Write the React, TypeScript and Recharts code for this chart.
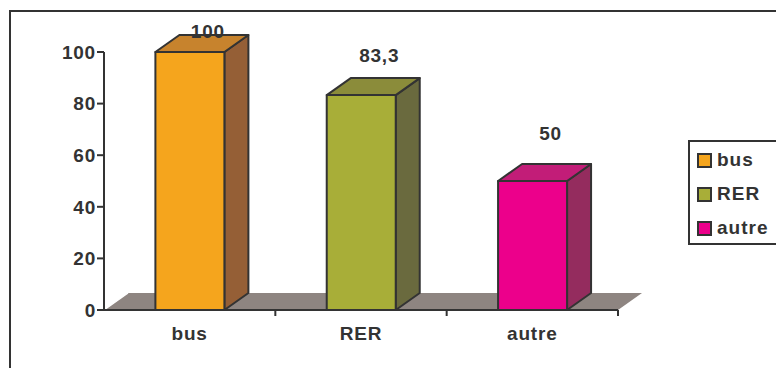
import React from 'react';
import {
  BarChart,
  Bar,
  XAxis,
  YAxis,
  Legend,
  LabelList,
  ReferenceArea,
  Cell,
} from 'recharts';

// Transport modes and their share (%)
const categories = ['bus', 'RER', 'autre'];
const values = [100, 83.3, 50];
const yTicks = [0, 20, 40, 60, 80, 100];

// Face colours of each 3D column: front, side, top
const frontColors = ['#F5A51D', '#A8AE38', '#EC008B'];
const sideColors = ['#955F36', '#6A6A3E', '#942C5E'];
const topColors = ['#C7832D', '#8B8C3A', '#C21D78'];

const data = categories.map((name, i) => ({ name, value: values[i] }));

const FONT = '"Liberation Sans", Arial, Helvetica, sans-serif';
const INK = '#333333';
const FONT_SIZE = 19;
const SPACING = 0.8;
const DEPTH_X = 24;
const DEPTH_Y = 17;

const Column3D = (props: any) => {
  const { x, y, width, height, index } = props;
  if (width == null || height == null) return null;
  const r = x + width;
  const b = y + height;
  return (
    <g stroke={INK} strokeWidth={2} strokeLinejoin="round">
      <polygon
        points={`${r},${y} ${r + DEPTH_X},${y - DEPTH_Y} ${r + DEPTH_X},${b - DEPTH_Y} ${r},${b}`}
        fill={sideColors[index]}
      />
      <polygon
        points={`${x},${y} ${x + DEPTH_X},${y - DEPTH_Y} ${r + DEPTH_X},${y - DEPTH_Y} ${r},${y}`}
        fill={topColors[index]}
      />
      <rect x={x} y={y} width={width} height={height} fill={frontColors[index]} />
    </g>
  );
};

// Floor of the 3D plot, drawn along the zero line
const Floor = (props: any) => {
  const { x, y, width, height } = props;
  const b = y + height;
  return (
    <g>
      <polygon
        points={`${x},${b} ${x + DEPTH_X},${b - DEPTH_Y} ${x + width + DEPTH_X},${b - DEPTH_Y} ${x + width},${b}`}
        fill="#8E8581"
      />
      <line x1={x} y1={b} x2={x + DEPTH_X} y2={b - DEPTH_Y} stroke="#ffffff" strokeWidth={1.5} />
    </g>
  );
};

const ValueLabel = (props: any) => {
  const { x, y, width, value } = props;
  const lift = 48 - 0.24 * (value - 50);
  const cy = Math.max(y - lift, 31);
  return (
    <text
      x={x + width / 2 + 18}
      y={cy + 7}
      textAnchor="middle"
      fontFamily={FONT}
      fontWeight="bold"
      fontSize={FONT_SIZE}
      letterSpacing={SPACING}
      fill={INK}
    >
      {String(value).replace('.', ',')}
    </text>
  );
};

const CategoryTick = (props: any) => {
  const { x, y, payload } = props;
  const axisY = y - 8;
  const half = payload && payload.offset ? payload.offset : 0;
  return (
    <g>
      <line x1={x + half} y1={axisY} x2={x + half} y2={axisY + 6} stroke={INK} strokeWidth={2} />
      <text
        x={x}
        y={axisY + 30}
        textAnchor="middle"
        fontFamily={FONT}
        fontWeight="bold"
        fontSize={FONT_SIZE}
        letterSpacing={SPACING}
        fill={INK}
      >
        {payload.value}
      </text>
    </g>
  );
};

const LegendBox = () => (
  <div
    style={{
      position: 'relative',
      boxSizing: 'border-box',
      width: 96,
      height: 105,
      border: `2px solid ${INK}`,
      background: '#fff',
      fontFamily: FONT,
      fontWeight: 'bold',
      fontSize: FONT_SIZE,
      letterSpacing: 1,
      color: INK,
    }}
  >
    {categories.map((name, i) => (
      <div
        key={name}
        style={{ position: 'absolute', left: 7, top: 11 + i * 34, height: 14, display: 'flex' }}
      >
        <div
          style={{
            boxSizing: 'border-box',
            width: 15,
            height: 15,
            border: `2px solid ${INK}`,
            background: frontColors[i],
          }}
        />
        <span style={{ marginLeft: 5, lineHeight: '14px', whiteSpace: 'nowrap' }}>{name}</span>
      </div>
    ))}
  </div>
);

export default function App() {
  return (
    <div
      style={{
        position: 'absolute',
        left: 0,
        top: 0,
        width: 776,
        height: 368,
        overflow: 'hidden',
        background: '#fff',
      }}
    >
      <div
        style={{
          position: 'absolute',
          left: 9,
          top: 10,
          width: 900,
          height: 500,
          border: `2px solid ${INK}`,
        }}
      />
      <div style={{ position: 'absolute', left: 0, top: 0 }}>
        <BarChart
          width={776}
          height={368}
          data={data}
          margin={{ top: 52, right: 158, bottom: 18, left: 44 }}
          barCategoryGap="30%"
        >
          <ReferenceArea y1={0} y2={100} shape={Floor} ifOverflow="visible" />
          <XAxis
            dataKey="name"
            axisLine={{ stroke: INK, strokeWidth: 2 }}
            tickLine={false}
            tickSize={6}
            tickMargin={2}
            height={40}
            tick={CategoryTick}
            interval={0}
          />
          <YAxis
            domain={[0, 100]}
            ticks={yTicks}
            width={60}
            axisLine={{ stroke: INK, strokeWidth: 2 }}
            tickLine={{ stroke: INK, strokeWidth: 2 }}
            tickSize={7}
            tickMargin={1}
            tick={{
              fontFamily: FONT,
              fontWeight: 'bold',
              fontSize: FONT_SIZE,
              letterSpacing: SPACING,
              fill: INK,
            }}
          />
          <Legend
            layout="vertical"
            align="center"
            verticalAlign="middle"
            content={LegendBox}
            wrapperStyle={{ left: 688, top: 140, width: 96 }}
          />
          <Bar dataKey="value" shape={Column3D} isAnimationActive={false}>
            {data.map((d, i) => (
              <Cell key={d.name} fill={frontColors[i]} />
            ))}
            <LabelList dataKey="value" content={ValueLabel} />
          </Bar>
        </BarChart>
      </div>
    </div>
  );
}
